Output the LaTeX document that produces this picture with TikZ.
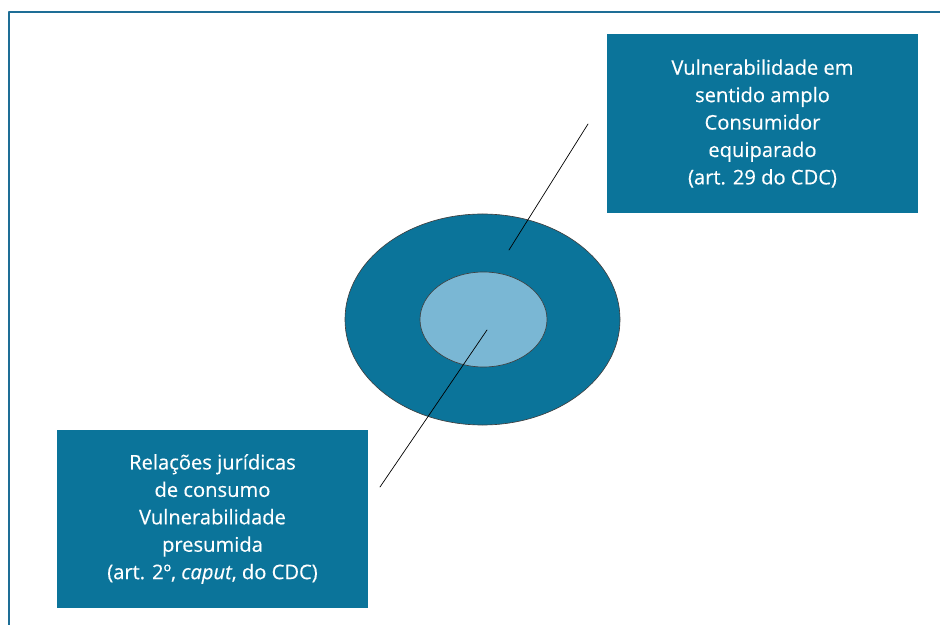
\documentclass[tikz,border=0pt]{standalone}
\usepackage{fontspec}
\setmainfont{Open Sans}
\newfontfamily\boxfont{Open Sans}[FakeBold=0.35]
\usetikzlibrary{shapes.geometric}

\definecolor{ringblue}{RGB}{11,116,154}
\definecolor{coreblue}{RGB}{122,183,212}
\definecolor{framblue}{RGB}{30,110,150}

\begin{document}
\begin{tikzpicture}[line cap=round,line join=round,x=0.03cm,y=-0.03cm,
  infobox/.style={rectangle,fill=ringblue,text=white,align=center,
    minimum width=9.33cm,minimum height=5.36cm,inner sep=0pt,
    font=\boxfont\fontsize{17.2}{23.4}\selectfont},
  ring/.style={ellipse,draw=black!75,line width=0.55pt,inner sep=0pt}]

\useasboundingbox (0,0) rectangle (940,625);
%% frame, top and left side only
\draw [framblue,line width=1.3pt] (9,625) -- (9,12) -- (940,12);

%% the two ellipses
\node [ring,fill=ringblue,minimum width=8.25cm,minimum height=6.33cm] (outer) at (482.5,319.5) {};
\node [ring,fill=coreblue,minimum width=3.81cm,minimum height=2.85cm] (inner) at (483.5,319.5) {};

%% text boxes
\node [infobox] (equip) at (762.5,123.5) {Vulnerabilidade em\\sentido amplo\\Consumidor\\equiparado\\(art. 29 do CDC)};
\node [infobox] (consumo) at (212.5,519) {Relações jurídicas\\de consumo\\Vulnerabilidade\\presumida\\(art. 2º, \textit{caput}, do CDC)};

%% pointers
\coordinate (equiptip) at (588,124);
\coordinate (ringtip) at (509,250);
\coordinate (coretip) at (487,330);
\coordinate (consumotip) at (380,487);
\draw [line width=0.6pt] (equiptip) -- (ringtip);
\draw [line width=0.6pt] (coretip) -- (consumotip);
%%
\end{tikzpicture}
\end{document}
